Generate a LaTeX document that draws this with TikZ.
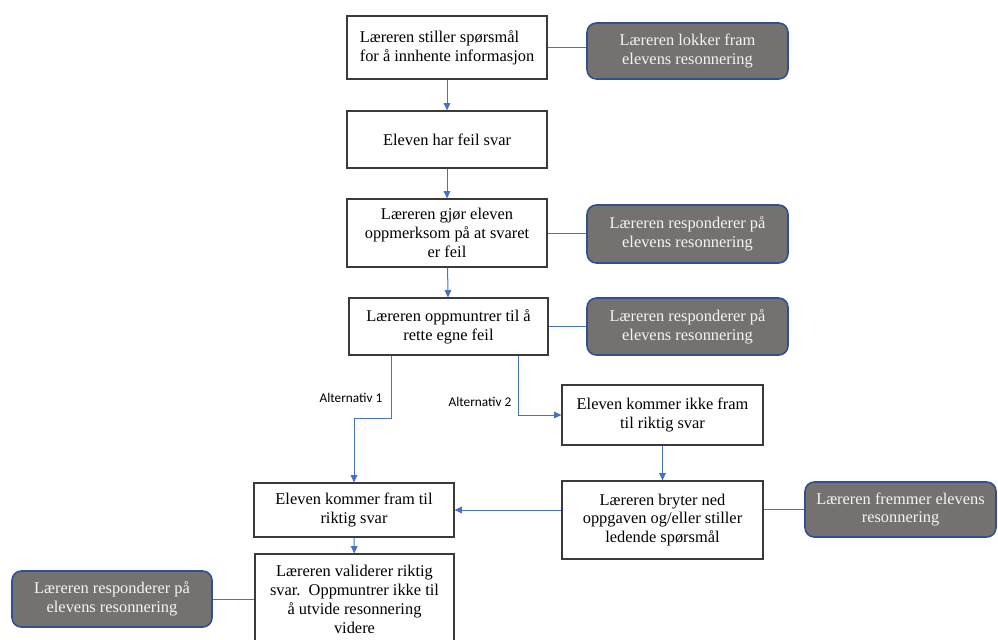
\documentclass[tikz,border=0pt]{standalone}
\usepackage{fontspec}
\setmainfont{Liberation Serif}
\newfontfamily\altfont{Carlito}
\usetikzlibrary{arrows.meta}
\definecolor{conn}{HTML}{4472C4}
\definecolor{greyfill}{HTML}{767171}
\definecolor{greyedge}{HTML}{2F528F}
\definecolor{greytext}{HTML}{F4F4F4}
\definecolor{boxedge}{HTML}{3A3A3A}
\begin{document}
\begin{tikzpicture}[x=0.75pt,y=-0.75pt,
  wbox/.style={draw=boxedge, line width=0.9pt, fill=white, inner sep=2pt, align=center,
    font=\fontsize{12.3}{14.2}\selectfont, text=black},
  gbox/.style={draw=greyedge, line width=1.2pt, fill=greyfill, rounded corners=7pt, inner sep=2pt,
    align=center, font=\fontsize{12.3}{14.2}\selectfont, text=greytext},
  arr/.style={draw=conn, line width=0.75pt, -{Triangle[length=5.5pt,width=5pt]}},
  ln/.style={draw=conn, line width=0.75pt},
  altlab/.style={font=\altfont\fontsize{10}{12}\selectfont, inner sep=0pt}]
\useasboundingbox (0,0) rectangle (998,639);

\node[wbox, align=left, minimum width=150pt, minimum height=47.25pt] (b1) at (447,47.5)
  {Læreren stiller spørsmål\\for å innhente informasjon};
\node[gbox, minimum width=150.75pt, minimum height=42pt] (g1) at (687.5,51)
  {Læreren lokker fram\\elevens resonnering};
\node[wbox, minimum width=150pt, minimum height=42.75pt] (b2) at (447,139.5)
  {Eleven har feil svar};
\node[wbox, minimum width=150pt, minimum height=51pt] (b3) at (447,233)
  {Læreren gjør eleven\\oppmerksom på at svaret\\er feil};
\node[gbox, minimum width=150.75pt, minimum height=43.5pt] (g2) at (687.5,234)
  {Læreren responderer på\\elevens resonnering};
\node[wbox, minimum width=149.25pt, minimum height=42.75pt] (b4) at (448.5,326.5)
  {Læreren oppmuntrer til å\\rette egne feil};
\node[gbox, minimum width=150.75pt, minimum height=42.75pt] (g3) at (687.5,326.5)
  {Læreren responderer på\\elevens resonnering};
\node[wbox, minimum width=150.75pt, minimum height=45pt] (b6) at (662.5,415)
  {Eleven kommer ikke fram\\til riktig svar};
\node[wbox, minimum width=150.75pt, minimum height=58.5pt] (b7) at (662.5,520)
  {Læreren bryter ned\\oppgaven og/eller stiller\\ledende spørsmål};
\node[gbox, minimum width=143.25pt, minimum height=41.25pt] (g5) at (900.5,509.5)
  {Læreren fremmer elevens\\resonnering};
\node[wbox, minimum width=150pt, minimum height=40.5pt] (b5) at (354,510)
  {Eleven kommer fram til\\riktig svar};
\node[wbox, minimum width=149.25pt, minimum height=68.25pt] (b8) at (354.5,599.5)
  {Læreren validerer riktig\\svar.\ \ Oppmuntrer ikke til\\å utvide resonnering\\videre};
\node[gbox, minimum width=150pt, minimum height=42pt] (g4) at (112,599)
  {Læreren responderer på\\elevens resonnering};

\node[altlab] (alt1) at (351,398) {Alternativ 1};
\node[altlab] (alt2) at (480,402) {Alternativ 2};

\coordinate (a1x) at (391,0);
\coordinate (a2x) at (518,0);
\coordinate (k1) at (354,418);

\draw[arr] (b1) -- (b2);
\draw[arr] (b2) -- (b3);
\draw[arr] (b3) -- (b4);
\draw[ln] (b1) -- (g1.west |- b1);
\draw[ln] (b3.east) -- (g2.west |- b3.east);
\draw[ln] (b4.east) -- (g3.west);
\draw[arr] (b4.south -| a1x) |- (k1) -- (b5.north);
\draw[arr] (b4.south -| a2x) |- (b6.west);
\draw[arr] (b6) -- (b7);
\draw[arr] (b7.west |- b5.east) -- (b5.east);
\draw[ln] (b7.east |- g5.west) -- (g5.west);
\draw[arr] (b5) -- (b8);
\draw[ln] (b8.west |- g4.east) -- (g4.east);
\end{tikzpicture}
\end{document}
